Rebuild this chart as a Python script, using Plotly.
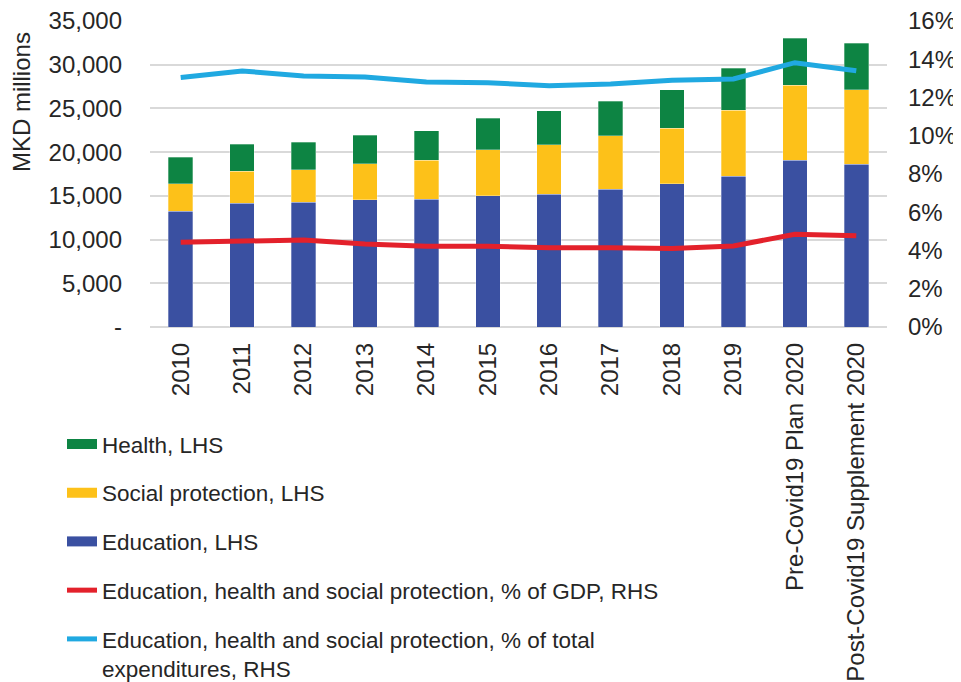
import plotly.graph_objects as go

categories = ["2010", "2011", "2012", "2013", "2014", "2015", "2016", "2017",
              "2018", "2019", "Pre-Covid19 Plan 2020", "Post-Covid19 Supplement 2020"]
education = [13230, 14180, 14260, 14560, 14640, 15020, 15210, 15750, 16360, 17240, 19100, 18610]
social_protection = [3160, 3660, 3730, 4120, 4420, 5260, 5610, 6100, 6400, 7540, 8580, 8500]
health = [3020, 3060, 3170, 3240, 3360, 3620, 3890, 3960, 4380, 4810, 5340, 5370]
pct_gdp = [4.43, 4.51, 4.55, 4.34, 4.22, 4.22, 4.15, 4.15, 4.11, 4.24, 4.85, 4.77]
pct_total_exp = [13.04, 13.39, 13.12, 13.07, 12.81, 12.77, 12.62, 12.71, 12.90, 12.97, 13.82, 13.40]

left_ticks = [0, 5000, 10000, 15000, 20000, 25000, 30000, 35000]
left_ticktext = ["-", "5,000", "10,000", "15,000", "20,000", "25,000", "30,000", "35,000"]
right_ticks = [0, 2, 4, 6, 8, 10, 12, 14, 16]
right_ticktext = ["0%", "2%", "4%", "6%", "8%", "10%", "12%", "14%", "16%"]

C_EDU = "#3A50A1"
C_SP = "#FDC119"
C_H = "#0D8443"
C_RED = "#E3212B"
C_BLUE = "#20A9E1"

TICK_FONT = dict(family="Liberation Sans, Arial, sans-serif", size=24, color="#262626")
LEG_FONT = dict(family="Liberation Sans, Arial, sans-serif", size=22.5, color="#262626")

fig = go.Figure()
for name, vals, col in [("Education, LHS", education, C_EDU),
                        ("Social protection, LHS", social_protection, C_SP),
                        ("Health, LHS", health, C_H)]:
    fig.add_trace(go.Bar(x=categories, y=vals, name=name, marker_color=col,
                         marker_line=dict(color="rgba(255,255,255,0.5)", width=0.6),
                         width=0.4, showlegend=False))

fig.add_trace(go.Scatter(x=categories, y=pct_gdp, yaxis="y2", mode="lines",
                         line=dict(color=C_RED, width=5), showlegend=False,
                         name="Education, health and social protection, % of GDP, RHS"))
fig.add_trace(go.Scatter(x=categories, y=pct_total_exp, yaxis="y2", mode="lines",
                         line=dict(color=C_BLUE, width=5), showlegend=False,
                         name="Education, health and social protection, % of total expenditures, RHS"))

# legend entries
legend_items = [("Health, LHS", C_H, 13),
                ("Social protection, LHS", C_SP, 13),
                ("Education, LHS", C_EDU, 13),
                ("Education, health and social protection, % of GDP, RHS", C_RED, 5),
                ("Education, health and social protection, % of total<br>expenditures, RHS", C_BLUE, 5)]
for i, (name, col, w) in enumerate(legend_items):
    fig.add_trace(go.Scatter(x=[None], y=[None], mode="lines", name=name,
                             line=dict(color=col, width=w), legendgroup=f"g{i}",
                             legendrank=i + 1, showlegend=True))

fig.update_layout(
    width=953, height=674, autosize=False,
    margin=dict(l=142, r=74, t=13, b=355, autoexpand=False),
    paper_bgcolor="white", plot_bgcolor="white",
    barmode="stack",
    xaxis=dict(tickangle=-90, tickfont=TICK_FONT, showgrid=False, automargin=False,
               ticks="", ticklabelstandoff=10, showline=False),
    yaxis=dict(range=[0, 35000], tickvals=left_ticks, ticktext=left_ticktext,
               tickfont=TICK_FONT, showgrid=True, gridcolor="#D9D9D9", gridwidth=1.5,
               zeroline=True, zerolinecolor="#D9D9D9", zerolinewidth=2,
               automargin=False, ticks="", ticklabelstandoff=27,
               ticklabeloverflow="allow"),
    yaxis2=dict(range=[0, 16], tickvals=right_ticks, ticktext=right_ticktext, overlaying="y",
                side="right", tickfont=TICK_FONT, showgrid=False, zeroline=False,
                automargin=False, ticks="", ticklabelstandoff=20,
                ticklabeloverflow="allow"),
    legend=dict(x=-0.1194, y=-0.313, xanchor="left", yanchor="top", font=LEG_FONT,
                tracegroupgap=16.5, valign="top", bgcolor="rgba(0,0,0,0)",
                itemwidth=30),
    annotations=[dict(text="MKD millions", xref="paper", yref="paper",
                      x=-0.175, y=0.735, xanchor="center", yanchor="middle",
                      textangle=-90, showarrow=False,
                      font=dict(family="Liberation Sans, Arial, sans-serif", size=24, color="#262626"))],
)

fig.write_html("out.html")
